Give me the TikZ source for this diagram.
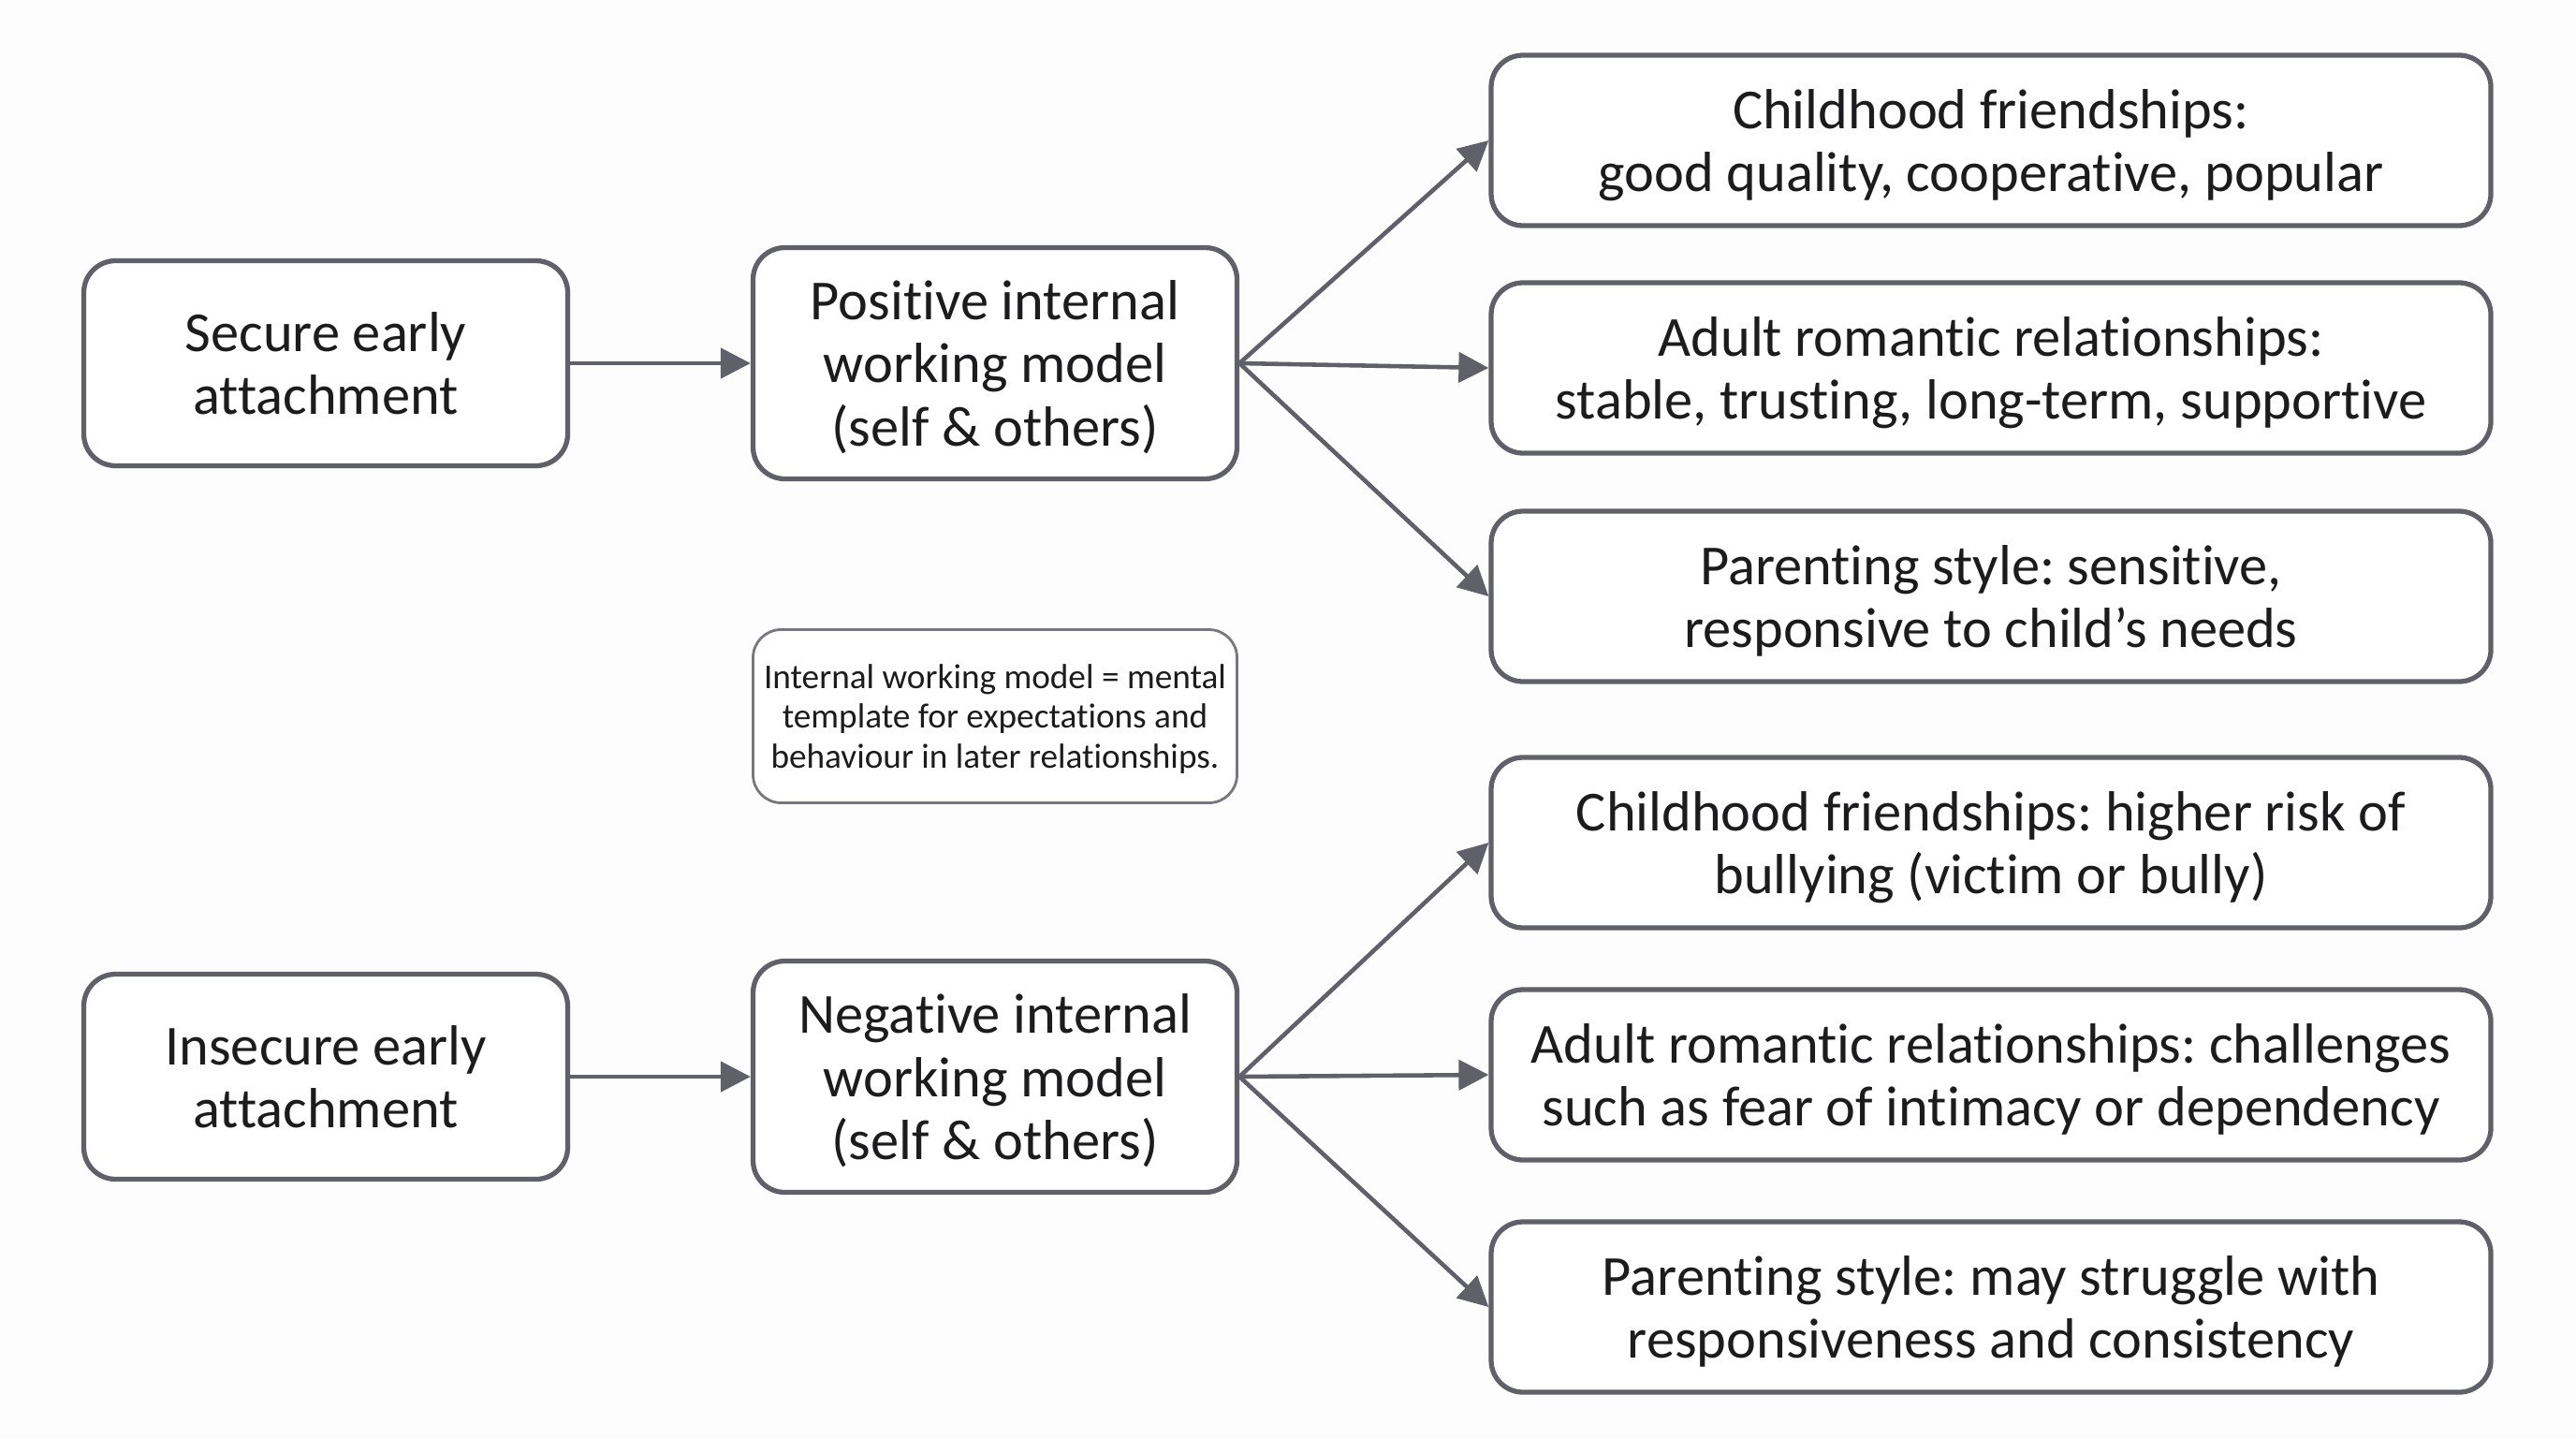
\documentclass[tikz,border=0pt]{standalone}
\usepackage{fontspec}
\setmainfont[Ligatures=NoCommon]{Carlito}
\usetikzlibrary{arrows.meta}
\definecolor{linegray}{HTML}{606168}
\definecolor{notegray}{HTML}{77787E}
\definecolor{textblack}{HTML}{1C1C1E}
\definecolor{paper}{HTML}{FDFDFD}
\frenchspacing
\begin{document}
\begin{tikzpicture}[
    box/.style={shape=rectangle, rounded corners=0.34cm, draw=linegray, line width=1.5pt, fill=white, align=center, text=textblack, inner sep=0pt, text depth=0pt, font=\fontsize{17.2}{19.3}\selectfont},
    srcbox/.style={box, minimum width=5.17cm, minimum height=2.19cm},
    modelbox/.style={box, minimum width=5.17cm, minimum height=2.47cm},
    outbox/.style={box, minimum width=10.68cm, minimum height=1.82cm},
    notebox/.style={box, draw=notegray, line width=0.8pt, rounded corners=0.3cm, minimum width=5.17cm, minimum height=1.85cm, font=\fontsize{10.6}{12.2}\selectfont},
    link/.style={-{Triangle[length=0.32cm,width=0.32cm]}, draw=linegray, line width=1.3pt}
]
    \fill[paper] (0,0) rectangle (27.52,-15.36);
    \useasboundingbox (0,0) rectangle (27.52,-15.36);

    \node[srcbox] (A) at (3.48,-3.88) {Secure early\\attachment};
    \node[modelbox] (B) at (10.63,-3.88) {Positive internal\\working model\\(self \& others)};
    \node[notebox] (N) at (10.63,-7.65) {Internal working model = mental\\template for expectations and\\behaviour in later relationships.};
    \node[srcbox] (C) at (3.48,-11.50) {Insecure early\\attachment};
    \node[modelbox] (D) at (10.63,-11.50) {Negative internal\\working model\\(self \& others)};

    \node[outbox] (E) at (21.27,-1.50) {Childhood friendships:\\good quality, cooperative, popular};
    \node[outbox] (F) at (21.27,-3.93) {Adult romantic relationships:\\stable, trusting, long-term, supportive};
    \node[outbox] (G) at (21.27,-6.37) {Parenting style: sensitive,\\responsive to child’s needs};
    \node[outbox] (H) at (21.27,-9.00) {Childhood friendships: higher risk of\\bullying (victim or bully)};
    \node[outbox] (I) at (21.27,-11.48) {Adult romantic relationships: challenges\\such as fear of intimacy or dependency};
    \node[outbox] (J) at (21.27,-13.96) {Parenting style: may struggle with\\responsiveness and consistency};

    \path (A) edge[link] (B);
    \path (B.east) edge[link] (E.west);
    \path (B.east) edge[link] (F.west);
    \path (B.east) edge[link] (G.west);
    \path (C) edge[link] (D);
    \path (D.east) edge[link] (H.west);
    \path (D.east) edge[link] (I.west);
    \path (D.east) edge[link] (J.west);
\end{tikzpicture}
\end{document}
